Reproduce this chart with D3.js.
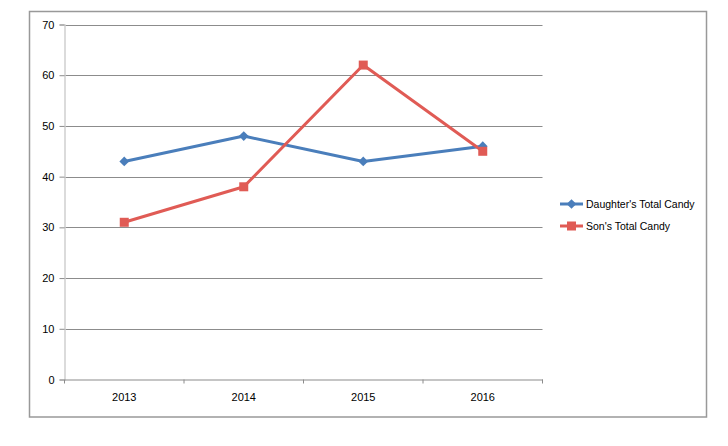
<!DOCTYPE html>
<html><head><meta charset="utf-8">
<script src="https://cdn.jsdelivr.net/npm/d3@7"></script>
<style>body{margin:0;background:#fff}svg{display:block}text{font-family:"Liberation Sans",Arial,sans-serif;font-size:11px;fill:#000}</style>
</head><body><svg id="c" width="728" height="446"></svg>
<script>
const categories = ["2013","2014","2015","2016"];
const daughter = [43,48,43,46];
const son = [31,38,62,45];
const yTicks = [0,10,20,30,40,50,60,70];
const seriesNames = ["Daughter's Total Candy","Son's Total Candy"];
const colors = ["#4A7EBB","#E05B55"];

const svg = d3.select("#c");
svg.append("rect").attr("x",29.5).attr("y",11.5).attr("width",677).attr("height",405.5)
  .attr("fill","#fff").attr("stroke","#999").attr("stroke-width",1.5);

const L=64.5, R=542.5, T=24.5, B=379.5;
const x = d3.scaleBand().domain(categories).range([L,R]);
const y = d3.scaleLinear().domain([0,70]).range([B,T]);

// gridlines
svg.append("g").selectAll("line").data(yTicks.filter(d=>d>0)).join("line")
  .attr("x1",L).attr("x2",R).attr("y1",d=>Math.round(y(d))+0.5).attr("y2",d=>Math.round(y(d))+0.5)
  .attr("stroke","#8c8c8c").attr("stroke-width",1);

// y axis
const ya = svg.append("g").attr("transform",`translate(${L},0)`)
  .call(d3.axisLeft(y).tickValues(yTicks).tickSize(5).tickPadding(5));
ya.select(".domain").attr("stroke","#d0d0d0").attr("stroke-width",1.5);
ya.selectAll(".tick line").attr("stroke","#8c8c8c");
ya.selectAll("text").style("font-size","11px").attr("fill","#000");

// x axis
const xa = svg.append("g").attr("transform",`translate(0,${B})`)
  .call(d3.axisBottom(x).tickSize(0).tickPadding(14));
xa.select(".domain").attr("stroke","#8c8c8c").attr("stroke-width",1.2);
xa.selectAll("text").attr("fill","#000");
const bounds = [L, ...categories.map(c=>x(c)+x.bandwidth())];
xa.append("g").selectAll("line").data(bounds).join("line")
  .attr("x1",d=>d).attr("x2",d=>d).attr("y1",0).attr("y2",4).attr("stroke","#8c8c8c");

const cx = c=>x(c)+x.bandwidth()/2;
const line = d3.line().x((d,i)=>cx(categories[i])).y(d=>y(d));
const diamond = d3.symbol().type(d3.symbolDiamond2).size(60);

[daughter,son].forEach((vals,si)=>{
  svg.append("path").datum(vals).attr("d",line).attr("fill","none")
    .attr("stroke",colors[si]).attr("stroke-width",3).attr("stroke-linejoin","round");
});
svg.append("g").selectAll("path").data(daughter).join("path")
  .attr("transform",(d,i)=>`translate(${cx(categories[i])},${y(d)})`)
  .attr("d",diamond).attr("fill",colors[0]);
svg.append("g").selectAll("rect").data(son).join("rect")
  .attr("x",(d,i)=>cx(categories[i])-4.5).attr("y",d=>y(d)-4.5)
  .attr("width",9).attr("height",9).attr("fill",colors[1]);

// legend
const lg = svg.append("g");
seriesNames.forEach((n,i)=>{
  const yy = 204 + i*22;
  lg.append("line").attr("x1",560).attr("x2",583).attr("y1",yy).attr("y2",yy)
    .attr("stroke",colors[i]).attr("stroke-width",3);
  if(i===0) lg.append("path").attr("transform",`translate(571.5,${yy})`).attr("d",diamond).attr("fill",colors[0]);
  else lg.append("rect").attr("x",567).attr("y",yy-4.5).attr("width",9).attr("height",9).attr("fill",colors[1]);
  lg.append("text").attr("x",586).attr("y",yy+4).text(n).style("font-size","10.5px");
});
</script></body></html>
